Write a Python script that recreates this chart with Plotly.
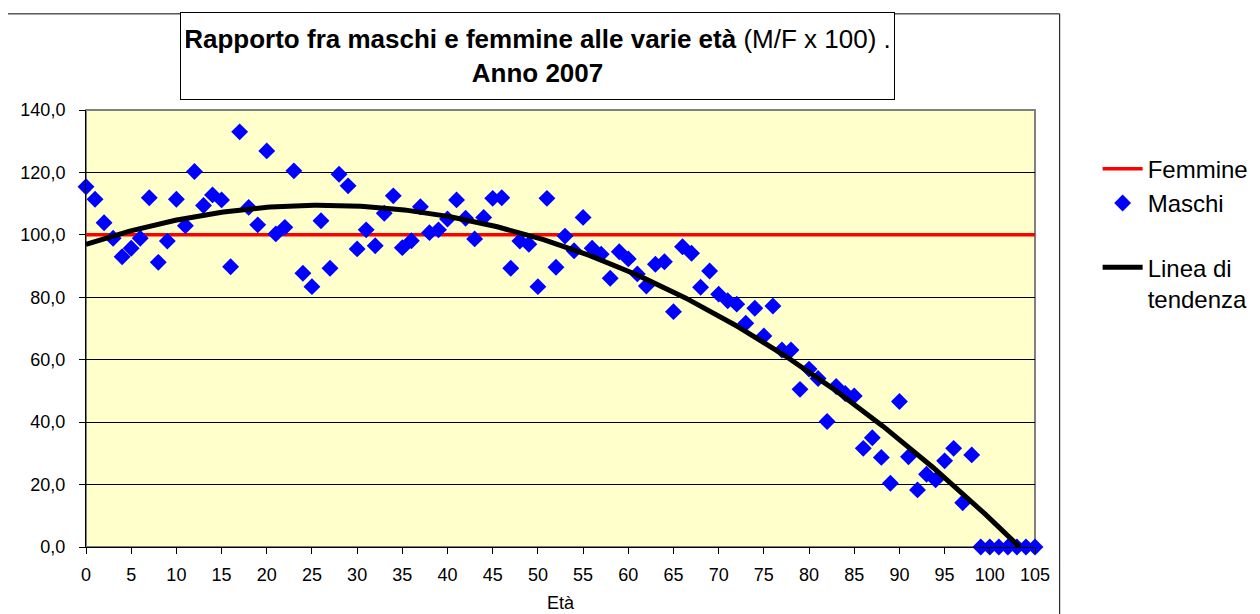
"""Rapporto fra maschi e femmine alle varie età (M/F x 100), anno 2007."""

import numpy as np
import plotly.graph_objects as go

# ── Data ────────────────────────────────────────────────────────────────────
eta = list(range(0, 106))

maschi = [
    115.4, 111.4, 103.9, 98.9, 93.0, 95.7, 98.9, 111.9, 91.2, 98.0,
    111.4, 102.9, 120.3, 109.4, 112.8, 111.2, 89.8, 133.0, 108.8, 103.2,
    126.9, 100.3, 102.4, 120.5, 87.7, 83.4, 104.5, 89.3, 119.4, 115.7,
    95.5, 101.6, 96.5, 106.9, 112.5, 95.9, 98.1, 109.0, 100.7, 101.6,
    105.1, 111.2, 105.3, 98.7, 105.6, 111.7, 111.9, 89.3, 98.0, 97.0,
    83.4, 111.7, 89.6, 99.6, 94.9, 105.6, 95.7, 93.8, 86.1, 94.6,
    92.3, 87.5, 83.6, 90.6, 91.4, 75.4, 96.2, 94.1, 83.2, 88.4,
    81.0, 78.9, 77.8, 71.7, 76.5, 67.6, 77.2, 63.1, 63.1, 50.5,
    57.0, 54.0, 40.2, 51.4, 49.2, 48.4, 31.6, 35.0, 28.7, 20.4,
    46.6, 28.9, 18.3, 23.3, 21.5, 27.6, 31.6, 14.2, 29.5, 0.0,
    0.0, 0.0, 0.0, 0.0, 0.0, 0.0,
]

femmine_eta = [0, 105]
femmine = [100.0, 100.0]

y_ticks = [0, 20, 40, 60, 80, 100, 120, 140]

# ── Style ───────────────────────────────────────────────────────────────────
_FONT = "'Liberation Sans', Arial, sans-serif"
_PLOT_BG = "#FFFFCC"
_BLUE = "#0000FF"
_RED = "#FF0000"

# Excel polynomial (order 2) trendline on the Maschi series, cut where it hits 0
coef = np.polyfit(eta, maschi, 2)
roots = [r.real for r in np.roots(coef) if abs(r.imag) < 1e-9 and r.real > 50]
x_end = min(roots) if roots else 105
trend_x = np.linspace(0, x_end, 300)
trend_y = np.polyval(coef, trend_x)

fig = go.Figure()

fig.add_trace(go.Scatter(
    x=femmine_eta, y=femmine,
    name="Femmine",
    mode="lines",
    line=dict(color=_RED, width=3.5),
    legendgroup="a",
))
fig.add_trace(go.Scatter(
    x=eta, y=maschi,
    name="Maschi",
    mode="markers",
    marker=dict(symbol="diamond", size=13, color=_BLUE, line=dict(width=0)),
    cliponaxis=False,
    legendgroup="a",
))
fig.add_trace(go.Scatter(
    x=trend_x, y=trend_y,
    name="Linea di<br>tendenza",
    mode="lines",
    line=dict(color="#000000", width=5),
    legendgroup="b",
))

# plot-area frame (grey, Excel-like)
fig.add_shape(
    type="rect", xref="paper", yref="paper", x0=0, y0=0, x1=1, y1=1,
    line=dict(color="#808080", width=2), layer="below",
)
# outer chart border
fig.add_shape(
    type="rect", xref="paper", yref="paper", x0=-0.083, y0=-0.25, x1=1.026, y1=1.22,
    line=dict(color="#000000", width=1),
)

fig.add_annotation(
    xref="paper", yref="paper", x=0.4758, y=1.123,
    xanchor="center", yanchor="middle",
    text=("<b>Rapporto fra maschi e femmine alle varie età</b> (M/F x 100) .<br>"
          "<b>Anno 2007</b>"),
    showarrow=False,
    font=dict(family=_FONT, size=26, color="#000000"),
    bgcolor="#FFFFFF", bordercolor="#000000", borderwidth=1,
    width=703, height=76, borderpad=5,
)

# page body adds an 8px offset, margins compensate for it
fig.update_layout(
    width=1260, height=614,
    paper_bgcolor="#FFFFFF",
    plot_bgcolor=_PLOT_BG,
    font=dict(family=_FONT, size=18, color="#000000"),
    separators=",.",
    margin=dict(l=76, r=233, t=102, b=75),
    showlegend=True,
    legend=dict(
        x=1.066, y=0.916, xanchor="left", yanchor="top",
        font=dict(size=24, color="#000000"),
        bgcolor="rgba(0,0,0,0)",
        traceorder="grouped", tracegroupgap=30, valign="top",
        itemwidth=40,
    ),
    xaxis=dict(
        range=[0, 105], tickmode="linear", tick0=0, dtick=5,
        showgrid=False, zeroline=False,
        showline=True, linecolor="#000000", linewidth=1,
        ticks="outside", ticklen=6, tickcolor="#000000",
        title=dict(text="Età", font=dict(size=18), standoff=12),
        ticklabelstandoff=5,
    ),
    yaxis=dict(
        range=[0, 140], tickvals=y_ticks, tickformat=".1f",
        showgrid=True, gridcolor="#000000", gridwidth=1,
        zeroline=False,
        showline=True, linecolor="#000000", linewidth=1,
        ticks="outside", ticklen=6, tickcolor="#000000",
        ticklabelstandoff=10,
    ),
)

fig.write_html("out.html")
